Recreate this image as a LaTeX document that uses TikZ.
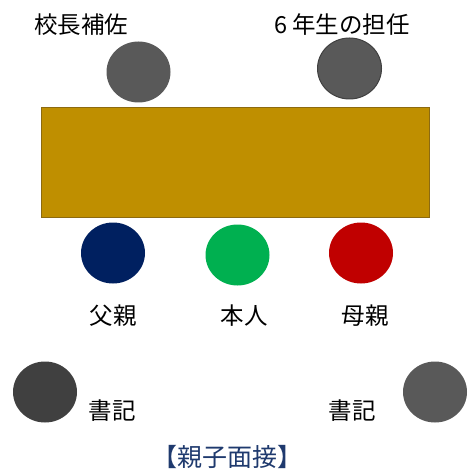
\documentclass[tikz,border=0pt]{standalone}
\usepackage{fontspec}
\setmainfont{Noto Sans CJK JP}
\usetikzlibrary{shapes.geometric}
\definecolor{tablefill}{HTML}{BF8F00}
\definecolor{tableedge}{HTML}{8C6A10}
\definecolor{staffgray}{HTML}{595959}
\definecolor{darkgray}{HTML}{404040}
\definecolor{fatherblue}{HTML}{002060}
\definecolor{childgreen}{HTML}{00B050}
\definecolor{motherred}{HTML}{C00000}
\definecolor{titleblue}{HTML}{1F3A6E}
\tikzset{
  person/.style={ellipse, inner sep=0pt, minimum width=64pt, minimum height=61pt},
  lbl/.style={inner sep=0pt, font=\fontsize{23.5pt}{26pt}\selectfont, text=black},
}
\begin{document}
\begin{tikzpicture}[x=1pt,y=-1pt]
\useasboundingbox (0,0) rectangle (468,470);
\fill[white] (0,0) rectangle (468,470);
% table
\node[draw=tableedge, line width=0.8pt, fill=tablefill, minimum width=388pt, minimum height=110pt, inner sep=0pt] (table) at (235,162) {};
% staff
\node[person, fill=staffgray] (vice) at (138.5,72) {};
\node[person, fill=staffgray, draw=darkgray, line width=1pt] (teacher) at (349.5,68.5) {};
\node[lbl] (vicelbl) at (81,25) {校長補佐};
\node[lbl] (teacherlbl) at (342,25) {6 年生の担任};
% family
\node[person, fill=fatherblue] (father) at (113,253) {};
\node[person, fill=childgreen] (child) at (237.5,255) {};
\node[person, fill=motherred] (mother) at (361,253) {};
\node[lbl] (fatherlbl) at (113,316) {父親};
\node[lbl] (childlbl) at (244,316) {本人};
\node[lbl] (motherlbl) at (365,316) {母親};
% clerks
\node[person, fill=darkgray] (clerkL) at (45,392) {};
\node[person, fill=staffgray] (clerkR) at (435,392) {};
\node[lbl] (clerkLlbl) at (112,411) {書記};
\node[lbl] (clerkRlbl) at (352,411) {書記};
% title
\node[lbl, font=\fontsize{25pt}{28pt}\selectfont, text=titleblue] (title) at (227,457) {【親子面接】};
\end{tikzpicture}
\end{document}
